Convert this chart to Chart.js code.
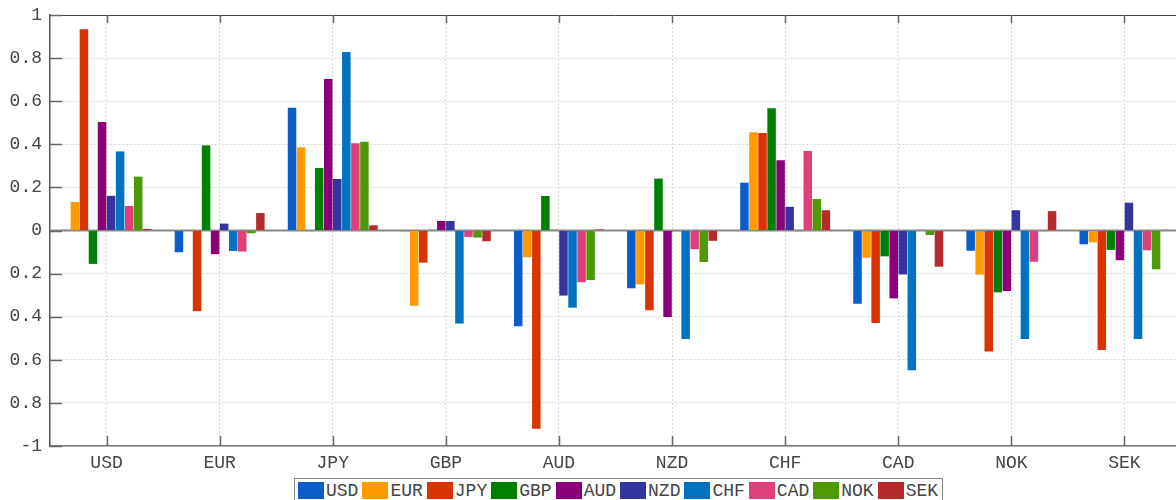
<!DOCTYPE html>
<html>
<head>
<meta charset="utf-8">
<script src="https://cdn.jsdelivr.net/npm/chart.js@4"></script>
<style>
    html, body { margin: 0; padding: 0; background: #fff; overflow: hidden; width: 1176px; height: 500px; }
    #wrap { position: absolute; left: 0; top: 0; width: 1182px; height: 500px; }
    #legend {
        position: absolute; left: 294px; top: 478px;
        border: 1px solid #888; background: #fff;
        padding: 3px 0 3px 3px; display: flex; white-space: nowrap;
        font-family: "Liberation Mono", monospace; font-size: 18px; color: #444;
    }
    #legend .item { display: flex; align-items: center; margin-right: 4px; }
    #legend .box { width: 26px; height: 17px; margin-right: 2px; }
    #legend span { line-height: 17px; position: relative; top: 1px; }
</style>
</head>
<body>
<div id="wrap"><canvas id="chart"></canvas></div>
<div id="legend"></div>
<script>
// categories on the x axis
var categories = ['USD', 'EUR', 'JPY', 'GBP', 'AUD', 'NZD', 'CHF', 'CAD', 'NOK', 'SEK'];

// one series per currency, values per category
var usd = [0.003, -0.101, 0.57, -0.003, -0.444, -0.268, 0.222, -0.34, -0.094, -0.064];
var eur = [0.132, -0.003, 0.386, -0.349, -0.124, -0.25, 0.456, -0.126, -0.205, -0.055];
var jpy = [0.934, -0.374, -0.003, -0.149, -0.92, -0.37, 0.452, -0.429, -0.561, -0.555];
var gbp = [-0.155, 0.395, 0.29, 0.003, 0.16, 0.241, 0.567, -0.12, -0.287, -0.09];
var aud = [0.503, -0.11, 0.703, 0.044, 0.003, -0.401, 0.326, -0.315, -0.281, -0.138];
var nzd = [0.161, 0.032, 0.239, 0.044, -0.302, -0.003, 0.11, -0.204, 0.094, 0.129];
var chf = [0.367, -0.095, 0.828, -0.431, -0.358, -0.503, -0.003, -0.649, -0.503, -0.503];
var cad = [0.114, -0.098, 0.405, -0.03, -0.24, -0.087, 0.369, 0.003, -0.145, -0.092];
var nok = [0.25, -0.013, 0.412, -0.033, -0.23, -0.146, 0.146, -0.021, -0.003, -0.18];
var sek = [0.007, 0.081, 0.024, -0.05, 0.005, -0.048, 0.094, -0.168, 0.09, 0.003];

var seriesNames = ['USD', 'EUR', 'JPY', 'GBP', 'AUD', 'NZD', 'CHF', 'CAD', 'NOK', 'SEK'];
var seriesValues = [usd, eur, jpy, gbp, aud, nzd, chf, cad, nok, sek];

// y tick labels, bottom to top (the picture shows no minus sign except on -1)
var yTickLabels = ['-1', '0.8', '0.6', '0.4', '0.2', '0', '0.2', '0.4', '0.6', '0.8', '1'];

var colors = ['#0b5ec9', '#ff9a00', '#d93400', '#008000', '#8b0078', '#3535a0', '#0072c0', '#e0407a', '#4e9a06', '#b52b2b'];
var fontFamily = '"Liberation Mono", monospace';
var textColor = '#444';

var datasets = seriesNames.map(function(name, i){
    return {
        label: name,
        data: seriesValues[i],
        backgroundColor: colors[i],
        borderWidth: 0,
        categoryPercentage: 0.8,
        barPercentage: 0.94
    };
});

// frame, zero line and inward tick marks
var framePlugin = {
    id: 'frame',
    beforeDatasetsDraw: function(chart){
        var ctx = chart.ctx;
        var a = chart.chartArea;
        var y0 = chart.scales.y.getPixelForValue(0);
        ctx.save();
        ctx.strokeStyle = '#888';
        ctx.lineWidth = 2;
        ctx.beginPath();
        ctx.moveTo(a.left, y0);
        ctx.lineTo(a.right, y0);
        ctx.stroke();
        ctx.restore();
    },
    afterDraw: function(chart){
        var ctx = chart.ctx;
        var a = chart.chartArea;
        var xs = chart.scales.x;
        var ys = chart.scales.y;
        ctx.save();
        // top border
        ctx.strokeStyle = '#444';
        ctx.lineWidth = 1;
        ctx.beginPath();
        ctx.moveTo(a.left, a.top + 0.5);
        ctx.lineTo(a.right, a.top + 0.5);
        ctx.moveTo(a.right - 0.5, a.top);
        ctx.lineTo(a.right - 0.5, a.bottom);
        ctx.stroke();
        // ticks on top and bottom at each category
        ctx.strokeStyle = '#666';
        ctx.lineWidth = 1.5;
        ctx.beginPath();
        for(var i = 0; i < categories.length; i++){
            var x = Math.round(xs.getPixelForValue(i)) + 0.5;
            ctx.moveTo(x, a.top);
            ctx.lineTo(x, a.top + 8);
            ctx.moveTo(x, a.bottom);
            ctx.lineTo(x, a.bottom - 10);
        }
        // ticks on the left at each y tick
        ys.ticks.forEach(function(t){
            var y = Math.round(ys.getPixelForValue(t.value)) + 0.5;
            ctx.moveTo(a.left, y);
            ctx.lineTo(a.left + 12, y);
        });
        ctx.stroke();
        ctx.restore();
    }
};

new Chart(document.getElementById('chart'), {
    type: 'bar',
    data: {
        labels: categories,
        datasets: datasets
    },
    plugins: [framePlugin],
    options: {
        responsive: true,
        maintainAspectRatio: false,
        animation: false,
        layout: { padding: { top: 15, right: 1, bottom: 0, left: 0 } },
        plugins: {
            legend: { display: false },
            tooltip: { enabled: false }
        },
        scales: {
            x: {
                offset: true,
                grid: {
                    offset: false,
                    drawTicks: false,
                    color: '#d6d6d6',
                    lineWidth: 1
                },
                border: { display: true, color: '#777', width: 1.5, dash: [2, 2] },
                ticks: {
                    color: textColor,
                    font: { family: fontFamily, size: 18 },
                    padding: 6,
                    maxRotation: 0
                },
                afterFit: function(scale){ scale.height = 54; }
            },
            y: {
                min: -1,
                max: 1,
                ticks: {
                    stepSize: 0.2,
                    color: textColor,
                    font: { family: fontFamily, size: 18, lineHeight: 0.6 },
                    padding: 8,
                    callback: function(value, index){ return yTickLabels[index]; }
                },
                grid: {
                    drawTicks: false,
                    color: function(c){
                        if(c.tick && Math.abs(c.tick.value) < 1e-9){ return 'rgba(0,0,0,0)'; }
                        return '#d6d6d6';
                    },
                    lineWidth: 1
                },
                border: { display: true, color: '#555', width: 1.5, dash: [2, 2] },
                afterFit: function(scale){ scale.width = 50; }
            }
        }
    }
});

// legend built from the same series names and colours
var legend = document.getElementById('legend');
seriesNames.forEach(function(name, i){
    var item = document.createElement('div');
    item.className = 'item';
    var box = document.createElement('div');
    box.className = 'box';
    box.style.background = colors[i];
    var label = document.createElement('span');
    label.textContent = name;
    item.appendChild(box);
    item.appendChild(label);
    legend.appendChild(item);
});
</script>
</body>
</html>
